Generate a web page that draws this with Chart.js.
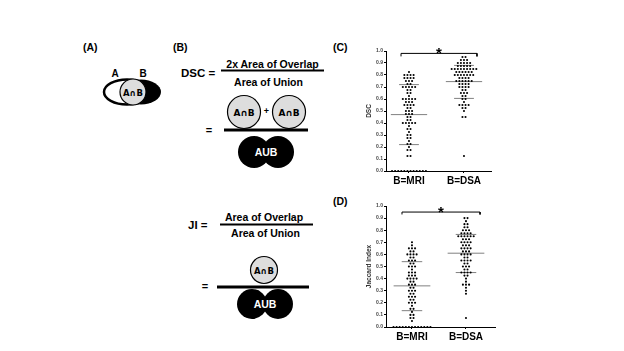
<!DOCTYPE html>
<html><head><meta charset="utf-8">
<script src="https://cdn.jsdelivr.net/npm/chart.js@4/dist/chart.umd.min.js"></script>
<style>
html,body{margin:0;padding:0;background:#fff;width:624px;height:351px;overflow:hidden;}
#fig{position:absolute;left:0;top:0;}
canvas{position:absolute;}
text{font-family:"Liberation Sans",Arial,sans-serif;font-weight:bold;}
text.cap{font-family:"DejaVu Sans","Liberation Sans",sans-serif;font-weight:bold;}
</style></head>
<body>
<svg id="fig" width="624" height="351" xmlns="http://www.w3.org/2000/svg">
  <!-- (A) -->
  <text x="83" y="51" font-size="10.5">(A)</text>
  <text x="115" y="77" font-size="10" text-anchor="middle">A</text>
  <text x="143" y="77" font-size="10" text-anchor="middle">B</text>
  <ellipse cx="127" cy="92" rx="23" ry="12.5" fill="#fff" stroke="#000" stroke-width="2.5"/>
  <ellipse cx="141" cy="92" rx="20" ry="12.5" fill="#000"/>
  <circle cx="133" cy="92" r="13" fill="#ddd" stroke="#000" stroke-width="1.2"/>
  <text class="cap" x="133" y="95.5" font-size="8.5" text-anchor="middle">A∩B</text>
  <!-- (B) DSC -->
  <text x="173" y="51" font-size="10.5">(B)</text>
  <text x="181" y="77" font-size="11.5">DSC =</text>
  <text x="272.5" y="68" font-size="10.5" text-anchor="middle">2x Area of Overlap</text>
  <line x1="221" y1="70.5" x2="324" y2="70.5" stroke="#000" stroke-width="2"/>
  <text x="268.5" y="86" font-size="10.5" text-anchor="middle">Area of Union</text>
  <text x="209" y="134" font-size="11" text-anchor="middle">=</text>
  <circle cx="244" cy="112" r="16.5" fill="#ddd" stroke="#000" stroke-width="1.2"/>
  <circle cx="289" cy="112" r="16.5" fill="#ddd" stroke="#000" stroke-width="1.2"/>
  <text class="cap" x="244" y="115.5" font-size="9" text-anchor="middle">A∩B</text>
  <text class="cap" x="289" y="115.5" font-size="9" text-anchor="middle">A∩B</text>
  <text x="266.5" y="114" font-size="9" text-anchor="middle">+</text>
  <line x1="224" y1="130" x2="308" y2="130" stroke="#000" stroke-width="3"/>
  <circle cx="254" cy="152" r="16" fill="#000"/>
  <circle cx="278" cy="152" r="16" fill="#000"/>
  <text x="266" y="156" font-size="10.5" text-anchor="middle" fill="#fff">AUB</text>
  <!-- JI -->
  <text x="188" y="229" font-size="11.5">JI =</text>
  <text x="264" y="221" font-size="10.5" text-anchor="middle">Area of Overlap</text>
  <line x1="220" y1="224.5" x2="313" y2="224.5" stroke="#000" stroke-width="2"/>
  <text x="265.5" y="237" font-size="10.5" text-anchor="middle">Area of Union</text>
  <text x="205" y="290" font-size="11" text-anchor="middle">=</text>
  <circle cx="264" cy="270" r="13.5" fill="#ddd" stroke="#000" stroke-width="1.2"/>
  <text class="cap" x="264" y="273.5" font-size="8.5" text-anchor="middle">A∩B</text>
  <line x1="217" y1="287" x2="309" y2="287" stroke="#000" stroke-width="3"/>
  <circle cx="252" cy="304" r="15" fill="#000"/>
  <circle cx="278" cy="304" r="15" fill="#000"/>
  <text x="265" y="308" font-size="10.5" text-anchor="middle" fill="#fff">AUB</text>
  <!-- panel labels -->
  <text x="333" y="51" font-size="10.5">(C)</text>
  <text x="333" y="205" font-size="10.5">(D)</text>
</svg>
<canvas id="cC" width="160" height="150" style="left:340px;top:40px"></canvas>
<canvas id="cD" width="160" height="156" style="left:340px;top:195px"></canvas>
<script>
// ---- data ----
const categories = ['B=MRI', 'B=DSA'];
const yTicks = [0.0, 0.1, 0.2, 0.3, 0.4, 0.5, 0.6, 0.7, 0.8, 0.9, 1.0];

const dscMRI = [0.82,0.81,0.80,0.79,0.79,0.78,0.78,0.77,0.77,0.76,0.75,0.74,0.72,0.72,0.71,0.71,0.70,0.70,0.69,0.68,
  0.67,0.66,0.64,0.62,0.61,0.60,0.60,0.59,0.59,0.58,0.58,0.57,0.56,0.55,0.55,0.54,0.53,0.52,0.51,0.50,
  0.49,0.48,0.47,0.47,0.46,0.45,0.43,0.42,0.40,0.40,0.40,0.39,0.39,0.37,0.36,0.35,0.33,0.31,0.30,0.28,
  0.27,0.25,0.23,0.22,0.19,0.18,0.17,0.12,0.12,
  0,0,0,0,0,0,0,0,0,0,0,0];
const dscDSA = [0.95,0.94,0.93,0.92,0.92,0.91,0.90,0.90,0.89,0.89,0.88,0.88,0.87,0.87,0.87,0.86,0.86,0.86,0.85,0.85,
  0.85,0.84,0.84,0.84,0.83,0.83,0.83,0.82,0.82,0.82,0.81,0.81,0.80,0.80,0.80,0.79,0.79,0.78,0.78,0.77,
  0.77,0.76,0.76,0.75,0.75,0.74,0.74,0.73,0.73,0.72,0.72,0.71,0.70,0.70,0.69,0.68,0.67,0.66,0.65,0.64,
  0.63,0.62,0.61,0.60,0.58,0.56,0.55,0.55,0.54,0.53,0.52,0.50,0.45,0.44,0.13];
const dscMean = [0.47, 0.745];
const dscSD = [[0.22, 0.72], [0.605, 0.88]];

const jiMRI = [0.70,0.68,0.66,0.65,0.64,0.63,0.62,0.61,0.60,0.60,0.59,0.58,0.57,0.56,0.55,0.54,0.53,0.52,0.51,0.50,
  0.49,0.48,0.46,0.45,0.44,0.43,0.42,0.42,0.41,0.40,0.40,0.39,0.38,0.37,0.36,0.35,0.34,0.33,0.32,0.31,
  0.30,0.29,0.28,0.27,0.26,0.25,0.24,0.23,0.22,0.21,0.20,0.19,0.17,0.16,0.15,0.13,0.10,0.09,0.08,0.07,0.06,
  0,0,0,0,0,0,0,0,0,0,0,0,0];
const jiDSA = [0.90,0.89,0.88,0.86,0.84,0.83,0.82,0.81,0.80,0.79,0.78,0.78,0.77,0.77,0.76,0.76,0.75,0.75,0.74,0.74,
  0.73,0.72,0.72,0.71,0.70,0.70,0.69,0.68,0.67,0.67,0.66,0.65,0.65,0.64,0.63,0.63,0.62,0.61,0.60,0.60,
  0.59,0.58,0.57,0.56,0.55,0.55,0.54,0.53,0.52,0.51,0.50,0.49,0.48,0.47,0.46,0.46,0.45,0.44,0.43,0.42,
  0.40,0.38,0.36,0.35,0.34,0.33,0.29,0.28,0.07];
const jiMean = [0.34, 0.61];
const jiSD = [[0.135, 0.54], [0.45, 0.765]];

// ---- beeswarm layout (deterministic, from the values) ----
function swarm(values, center, binSize, step) {
  const bins = new Map();
  values.forEach(v => {
    const k = Math.round(v / binSize);
    if (!bins.has(k)) bins.set(k, []);
    bins.get(k).push(v);
  });
  const pts = [];
  for (const [k, arr] of bins.entries()) {
    arr.forEach((v, i) => pts.push({x: center + (i - (arr.length - 1) / 2) * step, y: k === 0 ? 0 : k * binSize}));
  }
  return pts;
}

function hline(cx, half, y) {
  return {type: 'line', data: [{x: cx - half, y: y}, {x: cx + half, y: y}],
    borderColor: '#808080', borderWidth: 1, pointRadius: 0, clip: false};
}

function makeChart(id, series, means, sds, yTitle, cfg) {
  const datasets = [];
  series.forEach((vals, i) => {
    datasets.push({type: 'scatter', data: swarm(vals, i + 1, cfg.bin, cfg.step),
      pointRadius: 1.05, pointBackgroundColor: '#000', pointBorderWidth: 0, clip: false});
  });
  means.forEach((m, i) => datasets.push(hline(i + 1, cfg.meanHalf, m)));
  sds.forEach((pair, i) => pair.forEach(s => datasets.push(hline(i + 1, cfg.sdHalf, s))));
  const b = cfg.bracket;
  datasets.push({type: 'line', data: [{x: b[0], y: b[3]}, {x: b[0], y: b[2]}, {x: b[1], y: b[2]}, {x: b[1], y: b[3]}],
    borderColor: '#000', borderWidth: 1, pointRadius: 0, clip: false});

  const starPlugin = {
    id: 'star',
    afterDatasetsDraw(chart) {
      const ctx = chart.ctx;
      const x = chart.scales.x.getPixelForValue((b[0] + b[1]) / 2);
      const y = chart.scales.y.getPixelForValue(b[2]);
      ctx.save();
      ctx.fillStyle = '#000';
      ctx.font = 'bold 15px "Liberation Sans", Arial';
      ctx.textAlign = 'center';
      ctx.textBaseline = 'alphabetic';
      ctx.fillText('*', x, y + 5);
      ctx.restore();
    }
  };

  new Chart(document.getElementById(id), {
    data: {datasets},
    plugins: [starPlugin],
    options: {
      responsive: false, animation: false, devicePixelRatio: 1,
      layout: {padding: cfg.padding},
      plugins: {legend: {display: false}, tooltip: {enabled: false}},
      scales: {
        x: {type: 'linear', min: cfg.xmin, max: cfg.xmax,
          afterBuildTicks: s => { s.ticks = [{value: 1}, {value: 2}]; },
          afterFit: s => { s.height = cfg.xHeight; },
          ticks: {callback: v => categories[Math.round(v) - 1], color: '#000', padding: 2,
            maxRotation: 0, autoSkip: false, font: {family: '"Liberation Sans", Arial', size: 10, weight: 'bold'}},
          grid: {drawOnChartArea: false, drawTicks: true, tickLength: 2, color: '#000'},
          border: {color: '#000', width: 1}},
        y: {type: 'linear', min: 0, max: 1,
          afterBuildTicks: s => { s.ticks = yTicks.map(v => ({value: v})); },
          afterFit: s => { s.width = cfg.yWidth; },
          ticks: {callback: v => v.toFixed(1), color: '#444', padding: 1,
            font: {family: '"Liberation Sans", Arial', size: 5, weight: 'bold'}},
          grid: {drawOnChartArea: false, drawTicks: true, tickLength: 2, color: '#000'},
          border: {color: '#000', width: 1},
          title: {display: true, text: yTitle, color: '#333', padding: {top: 1, bottom: 0},
            font: {family: '"Liberation Sans", Arial', size: 6.5, weight: 'bold'}}}
      }
    }
  });
}

makeChart('cC', [dscMRI, dscDSA], dscMean, dscSD, 'DSC', {
  bin: 0.025, step: 0.056, meanHalf: 0.33, sdHalf: 0.18,
  xmin: 0.582, xmax: 2.491, bracket: [0.855, 2.236, 0.98, 0.955],
  padding: {left: 24, top: 11, right: 9, bottom: 0}, yWidth: 22, xHeight: 19
});
makeChart('cD', [jiMRI, jiDSA], jiMean, jiSD, 'Jaccard Index', {
  bin: 0.025, step: 0.057, meanHalf: 0.34, sdHalf: 0.19,
  xmin: 0.519, xmax: 2.537, bracket: [0.815, 2.26, 0.95, 0.93],
  padding: {left: 24, top: 11, right: 5, bottom: 0}, yWidth: 22, xHeight: 24
});
</script>
</body></html>
